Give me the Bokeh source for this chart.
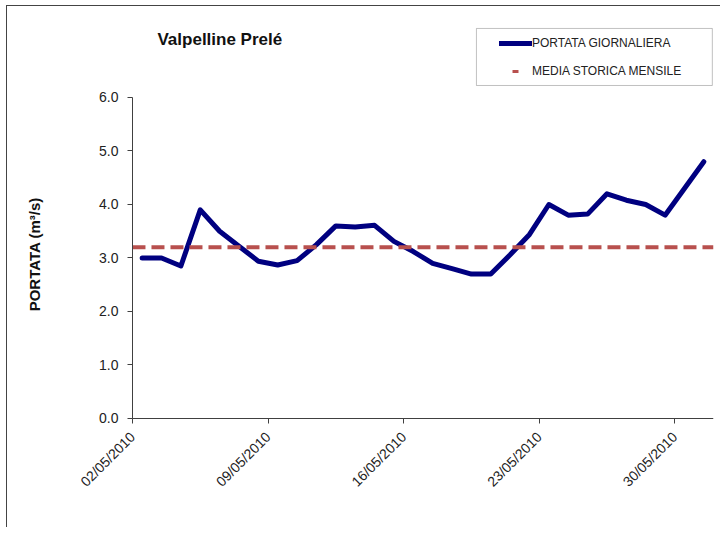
from math import pi
from bokeh.plotting import figure
from bokeh.models import (Range1d, FixedTicker, Legend, LegendItem, Label,
                          BoxAnnotation, NumeralTickFormatter)
from bokeh.embed import file_html
from bokeh.resources import INLINE

# ---------------- data ----------------
title_text = "Valpelline Prelé"
y_label = "PORTATA (m³/s)"
series_names = ["PORTATA GIORNALIERA", "MEDIA STORICA MENSILE"]

dates = ["02/05/2010", "03/05/2010", "04/05/2010", "05/05/2010", "06/05/2010",
         "07/05/2010", "08/05/2010", "09/05/2010", "10/05/2010", "11/05/2010",
         "12/05/2010", "13/05/2010", "14/05/2010", "15/05/2010", "16/05/2010",
         "17/05/2010", "18/05/2010", "19/05/2010", "20/05/2010", "21/05/2010",
         "22/05/2010", "23/05/2010", "24/05/2010", "25/05/2010", "26/05/2010",
         "27/05/2010", "28/05/2010", "29/05/2010", "30/05/2010", "31/05/2010"]
portata = [3.00, 3.00, 2.85, 3.90, 3.50, 3.22, 2.94, 2.87, 2.95, 3.25,
           3.60, 3.58, 3.61, 3.31, 3.12, 2.90, 2.80, 2.70, 2.70, 3.06,
           3.44, 4.00, 3.80, 3.82, 4.20, 4.08, 4.00, 3.80, 4.30, 4.80]
media_storica = 3.2
tick_labels = ["02/05/2010", "09/05/2010", "16/05/2010", "23/05/2010", "30/05/2010"]
y_ticks = [0, 1, 2, 3, 4, 5, 6]

# ---------------- figure ----------------
n = len(dates)
xs = [i + 0.5 for i in range(n)]
tick_pos = [dates.index(t) for t in tick_labels]

FONT = "Liberation Sans"
AXIS_COLOR = "#404040"
TEXT_COLOR = "#222222"
MEDIA_COLOR = "#B8504E"

# The frame covers the whole chart area (title, legend, axis texts sit inside
# it); both axes are pinned at the data origin and limited with bounds.
X_LEFT = -6.453
Y_TOP = 7.607
Y_BOTTOM = -2.056

p = figure(width=714, height=522, output_backend="svg", toolbar_location=None,
           x_range=Range1d(X_LEFT, n), y_range=Range1d(Y_BOTTOM, Y_TOP),
           min_border_left=0, min_border_right=8, min_border_top=5,
           min_border_bottom=0, outline_line_color=None,
           background_fill_color="white", border_fill_color="white")
p.styles = {"border-top": "1px solid #444444", "border-left": "1px solid #444444",
            "margin-left": "6px", "margin-top": "5px"}

p.xgrid.visible = False
p.ygrid.visible = False

# y axis
ya = p.yaxis[0]
ya.fixed_location = 0
ya.bounds = (y_ticks[0], y_ticks[-1])
ya.ticker = FixedTicker(ticks=y_ticks)
ya.formatter = NumeralTickFormatter(format="0.0")
ya.minor_tick_line_color = None
ya.major_tick_in = 0
ya.major_tick_out = 5
ya.axis_line_color = AXIS_COLOR
ya.major_tick_line_color = AXIS_COLOR
ya.major_label_text_font = FONT
ya.major_label_text_font_size = "14px"
ya.major_label_text_color = TEXT_COLOR
ya.major_label_standoff = 9

# y axis title
p.add_layout(Label(x=-5.06, y=3.07, text=y_label, angle=pi / 2,
                   text_font=FONT, text_font_style="bold", text_font_size="15px",
                   text_align="center", text_baseline="middle",
                   text_color="#111111"))

# x axis
xa = p.xaxis[0]
xa.fixed_location = 0
xa.bounds = (0, n)
xa.ticker = FixedTicker(ticks=tick_pos)
xa.major_label_overrides = {pos: lab for pos, lab in zip(tick_pos, tick_labels)}
xa.major_label_orientation = pi / 4
xa.minor_tick_line_color = None
xa.major_tick_in = 0
xa.major_tick_out = 5
xa.axis_line_color = AXIS_COLOR
xa.major_tick_line_color = AXIS_COLOR
xa.major_label_text_font = FONT
xa.major_label_text_font_size = "14px"
xa.major_label_text_color = TEXT_COLOR
xa.major_label_standoff = 11

# series
r_port = p.line(xs, portata, line_color="#000080", line_width=5,
                line_join="round", line_cap="round")
r_media = p.line([0, n], [media_storica, media_storica], line_color=MEDIA_COLOR,
                 line_width=4, line_dash="13 6")
# single-point line: draws nothing in the plot, only the short legend dash
r_media_leg = p.line([xs[0]], [media_storica], line_color=MEDIA_COLOR,
                     line_width=3, line_dash="6 60", line_dash_offset=-13)

# legend box (border) and legend
p.add_layout(BoxAnnotation(left=17.76, right=29.94, top=7.29, bottom=6.224,
                           fill_color="white", fill_alpha=1.0,
                           line_color="#333333", line_width=1, level="overlay"))
legend = Legend(items=[LegendItem(label=series_names[0], renderers=[r_port]),
                       LegendItem(label=series_names[1], renderers=[r_media_leg])],
                location=(492, 447), padding=0, spacing=8, glyph_width=33,
                glyph_height=20, label_height=20, label_standoff=0,
                border_line_color=None, background_fill_alpha=0,
                label_text_font=FONT, label_text_font_size="12px",
                label_text_color=TEXT_COLOR)
p.add_layout(legend, "center")

# title
p.add_layout(Label(x=1.29, y=7.08, text=title_text, text_font=FONT,
                   text_font_style="bold", text_font_size="17px",
                   text_baseline="middle", text_align="left",
                   text_color="#111111"))

open("out.html", "w").write(file_html(p, INLINE))
